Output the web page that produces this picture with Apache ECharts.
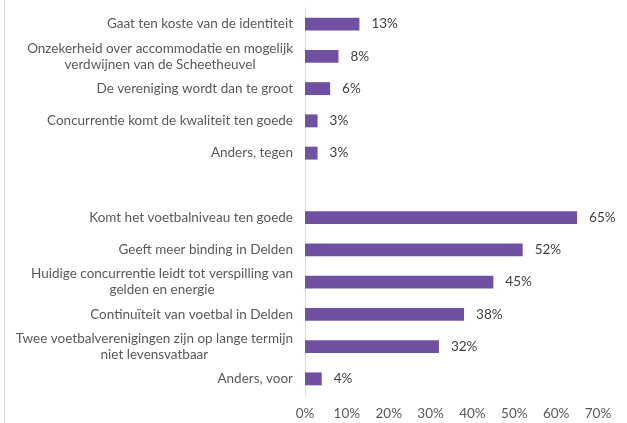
<!DOCTYPE html>
<html>
<head>
<meta charset="utf-8">
<script src="https://cdn.jsdelivr.net/npm/echarts@6/dist/echarts.min.js"></script>
<style>
  html, body { margin: 0; padding: 0; background: #fff; }
  #chart { width: 627px; height: 423px; }
</style>
</head>
<body>
<div id="chart"></div>
<script>
// categories, top to bottom (the empty one is the gap between tegen / voor)
const categories = [
  'Gaat ten koste van de identiteit',
  'Onzekerheid over accommodatie en mogelijk\nverdwijnen van de Scheetheuvel',
  'De vereniging wordt dan te groot',
  'Concurrentie komt de kwaliteit ten goede',
  'Anders, tegen',
  '',
  'Komt het voetbalniveau ten goede',
  'Geeft meer binding in Delden',
  'Huidige concurrentie leidt tot verspilling van\ngelden en energie',
  'Continuïteit van voetbal in Delden',
  'Twee voetbalverenigingen zijn op lange termijn\nniet levensvatbaar',
  'Anders, voor'
];
const values = [13, 8, 6, 3, 3, null, 65, 52, 45, 38, 32, 4];
const xTicks = [0, 10, 20, 30, 40, 50, 60, 70];

let chartDom = document.getElementById('chart');
let myChart = echarts.init(chartDom);

const font = 'Lato, "Open Sans", sans-serif';
const fs = 13.5;

const option = {
  animation: false,
  textStyle: { fontFamily: font },
  graphic: [{
    type: 'line',
    shape: { x1: 4.5, y1: 0, x2: 4.5, y2: 423 },
    style: { stroke: '#d9d9d9', lineWidth: 1 }
  }],
  grid: { left: 305, right: 29, top: 8, bottom: 28, containLabel: false },
  xAxis: {
    type: 'value',
    min: xTicks[0],
    max: xTicks[xTicks.length - 1],
    interval: 10,
    splitLine: { show: false },
    axisLine: { show: false },
    axisTick: { show: false },
    axisLabel: {
      color: '#595959',
      fontSize: fs,
      fontFamily: font,
      margin: 12,
      formatter: v => v + '%'
    }
  },
  yAxis: {
    type: 'category',
    inverse: true,
    data: categories,
    axisLine: { show: true, lineStyle: { color: '#d9d9d9', width: 1 } },
    axisTick: { show: false },
    axisLabel: {
      color: '#595959',
      fontSize: fs,
      fontFamily: font,
      margin: 12,
      lineHeight: 16,
      formatter: function (v) {
        return v.split('\n').map(l => '{c|' + l + '}').join('\n');
      },
      rich: {
        c: { align: 'center', fontSize: fs, lineHeight: 16, color: '#595959', fontFamily: font }
      }
    }
  },
  series: [{
    type: 'bar',
    data: values,
    barWidth: '40%',
    itemStyle: { color: '#7050a0' },
    label: {
      show: true,
      position: 'right',
      distance: 12,
      color: '#404040',
      fontSize: fs,
      fontFamily: font,
      formatter: p => p.value + '%'
    }
  }]
};

myChart.setOption(option);
</script>
</body>
</html>
